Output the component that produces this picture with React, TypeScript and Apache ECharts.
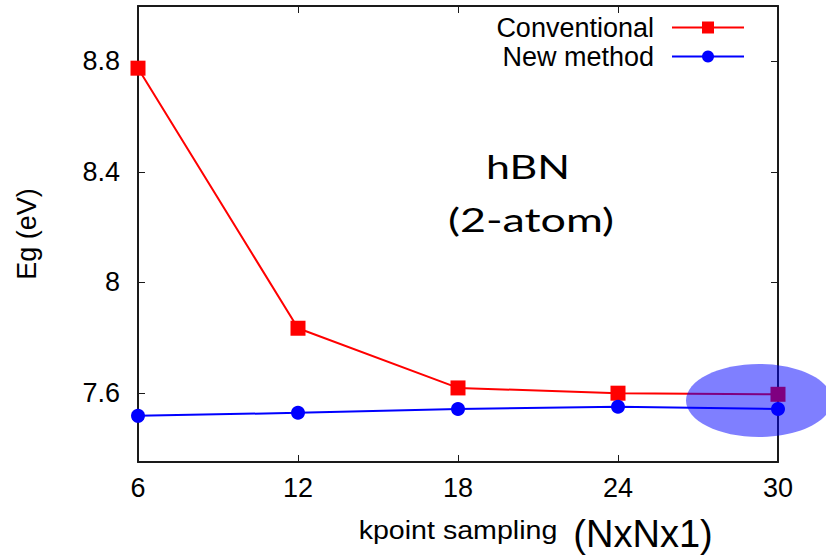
import React, { useEffect, useRef } from "react";
import * as echarts from "echarts";

const kpoints = [6, 12, 18, 24, 30];
const conventional = [8.775, 7.834, 7.618, 7.599, 7.595];
const newMethod = [7.517, 7.528, 7.542, 7.55, 7.542];
const yTickValues = [7.6, 8.0, 8.4, 8.8];
const seriesNames = ["Conventional", "New method"];

const FONT = "'Liberation Sans', Arial, sans-serif";

export default function App() {
  const ref = useRef<HTMLDivElement>(null);
  useEffect(() => {
    if (!ref.current) return;
    const chart = echarts.init(ref.current, null, { renderer: "svg" });
    const axisLineStyle = { color: "#1a1a1a", width: 2 };
    const tickStyle = { color: "#1a1a1a", width: 1 };
    const option: any = {
      animation: false,
      backgroundColor: "#ffffff",
      grid: { left: 138, right: 48, top: 6, bottom: 93, containLabel: false },
      legend: {
        orient: "vertical",
        align: "right",
        right: 76,
        top: 9,
        itemWidth: 72,
        itemHeight: 15,
        itemGap: 2,
        textStyle: { fontSize: 27, lineHeight: 24, fontFamily: FONT, color: "#000", padding: [0, 13, 0, 0] },
        data: seriesNames,
      },
      xAxis: [
        {
          type: "value",
          min: 6,
          max: 30,
          interval: 6,
          axisLine: { show: true, lineStyle: axisLineStyle },
          axisTick: { show: true, inside: true, length: 7, lineStyle: tickStyle },
          axisLabel: { fontSize: 27, fontFamily: FONT, color: "#000", margin: 12 },
          splitLine: { show: false },
        },
        {
          type: "value",
          position: "top",
          min: 6,
          max: 30,
          interval: 6,
          axisLine: { show: true, lineStyle: axisLineStyle },
          axisTick: { show: true, inside: true, length: 7, lineStyle: tickStyle },
          axisLabel: { show: false },
          splitLine: { show: false },
        },
      ],
      yAxis: [
        {
          type: "value",
          min: 7.35,
          max: 9.0,
          name: "Eg (eV)",
          nameLocation: "middle",
          nameRotate: 90,
          nameGap: 98,
          nameTextStyle: { fontSize: 27, fontFamily: FONT, color: "#000" },
          axisLine: { show: true, lineStyle: axisLineStyle },
          axisTick: { show: true, inside: true, length: 7, customValues: yTickValues, lineStyle: tickStyle },
          axisLabel: { fontSize: 27, fontFamily: FONT, color: "#000", margin: 18, customValues: yTickValues },
          splitLine: { show: false },
        },
        {
          type: "value",
          position: "right",
          min: 7.35,
          max: 9.0,
          axisLine: { show: true, lineStyle: axisLineStyle },
          axisTick: { show: true, inside: true, length: 7, customValues: yTickValues, lineStyle: tickStyle },
          axisLabel: { show: false },
          splitLine: { show: false },
        },
      ],
      series: [
        {
          name: seriesNames[0],
          type: "line",
          data: kpoints.map((k, i) => [k, conventional[i]]),
          symbol: "rect",
          symbolSize: 15,
          lineStyle: { color: "#ff0000", width: 2 },
          itemStyle: { color: "#ff0000" },
          z: 3,
        },
        {
          name: seriesNames[1],
          type: "line",
          data: kpoints.map((k, i) => [k, newMethod[i]]),
          symbol: "circle",
          symbolSize: 14,
          lineStyle: { color: "#0000ff", width: 2 },
          itemStyle: { color: "#0000ff" },
          z: 3,
        },
      ],
      graphic: [
        {
          type: "text",
          x: 528,
          y: 166,
          scaleX: 1.3,
          style: { text: "hBN", font: "33px Lato, 'Open Sans', sans-serif", fill: "#000", align: "center", verticalAlign: "middle" },
          z: 50,
        },
        {
          type: "text",
          x: 531,
          y: 219,
          scaleX: 1.36,
          style: { text: "(2-atom)", font: "33px Lato, 'Open Sans', sans-serif", fill: "#000", align: "center", verticalAlign: "middle" },
          z: 50,
        },
        {
          type: "text",
          x: 458,
          y: 543,
          scaleX: 1.1,
          style: { text: "kpoint sampling", font: "26px 'Liberation Sans', Arial, sans-serif", fill: "#000", align: "center", verticalAlign: "bottom" },
          z: 50,
        },
        {
          type: "text",
          x: 643,
          y: 553,
          style: { text: "(NxNx1)", font: "38px 'Liberation Sans', Arial, sans-serif", fill: "#000", align: "center", verticalAlign: "bottom" },
          z: 50,
        },
        {
          type: "ellipse",
          shape: { cx: 759, cy: 400.5, rx: 73, ry: 36.5 },
          style: { fill: "rgba(0,0,255,0.5)" },
          z: 100,
        },
      ],
    };
    chart.setOption(option);
    return () => chart.dispose();
  }, []);
  return (
    <div
      ref={ref}
      style={{ position: "fixed", left: 0, top: 0, width: 826, height: 555, background: "#fff" }}
    />
  );
}
